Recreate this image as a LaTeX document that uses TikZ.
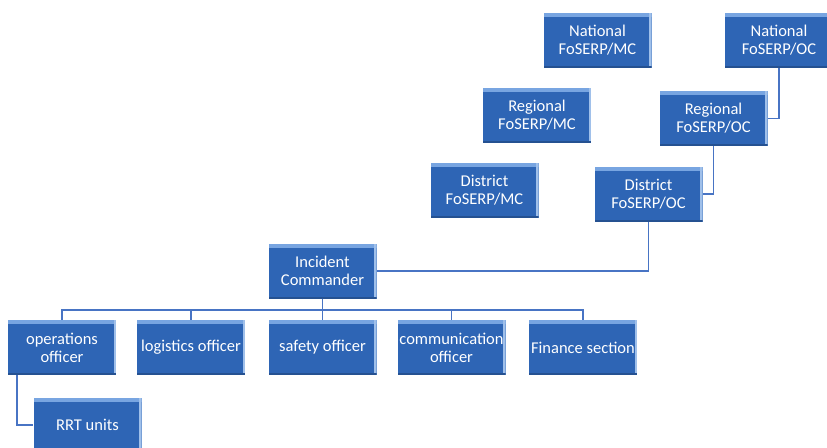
\documentclass[tikz,border=0pt]{standalone}
\usepackage{fontspec}
\setmainfont{Carlito}
\usepackage{tikz}

\definecolor{boxblue}{RGB}{46,101,181}
\definecolor{boxlight}{RGB}{120,165,225}
\definecolor{linkblue}{RGB}{72,116,196}

\tikzset{
  orgbox/.style={rectangle, fill=boxblue, text=white, align=center,
    minimum width=108pt, minimum height=55pt, inner sep=1pt,
    font=\fontsize{16.5}{18}\selectfont,
    path picture={
      \fill[boxlight] (path picture bounding box.north west) rectangle
        ([yshift=-4pt]path picture bounding box.north east);
      \fill[boxlight!70!white] ([xshift=-2.5pt]path picture bounding box.north east) rectangle
        (path picture bounding box.south east);
      \fill[boxblue!80!black] (path picture bounding box.south west) rectangle
        ([yshift=2pt]path picture bounding box.south east);
    }},
  link/.style={draw=linkblue, line width=1.6pt}
}

\begin{document}
\begin{tikzpicture}[x=1pt,y=-1pt]
  \useasboundingbox (0,0) rectangle (827,447);

  % MC side
  \node[orgbox] (natmc) at (597.5,40.5) {National\\FoSERP/MC};
  \node[orgbox] (regmc) at (537,115) {Regional\\FoSERP/MC};
  \node[orgbox] (dismc) at (484.5,190) {District\\FoSERP/MC};

  % OC side
  \node[orgbox] (natoc) at (779,40.5) {National\\FoSERP/OC};
  \node[orgbox] (regoc) at (713.5,118.5) {Regional\\FoSERP/OC};
  \node[orgbox] (disoc) at (648.5,194) {District\\FoSERP/OC};

  \node[orgbox] (ic) at (322.5,271) {Incident\\Commander};

  % officers
  \node[orgbox] (ops) at (62,347.5) {operations\\officer};
  \node[orgbox] (log) at (191,347.5) {logistics officer};
  \node[orgbox] (saf) at (322.5,347.5) {safety officer};
  \node[orgbox] (com) at (451.5,347.5) {communication\\officer};
  \node[orgbox] (fin) at (583,347.5) {Finance section};

  \node[orgbox] (rrt) at (87.5,425) {RRT units};

  \draw[link] (natoc.south) |- (regoc.east);
  \draw[link] (regoc.south) |- (disoc.east);
  \draw[link] (disoc.south) |- (ic.east);

  \foreach \c in {ops,log,saf,com,fin}
    \draw[link] (ic.south) -- ++(0,11) -| (\c.north);

  \draw[link] ([xshift=9pt]ops.south west) |- (rrt.west);
\end{tikzpicture}
\end{document}
